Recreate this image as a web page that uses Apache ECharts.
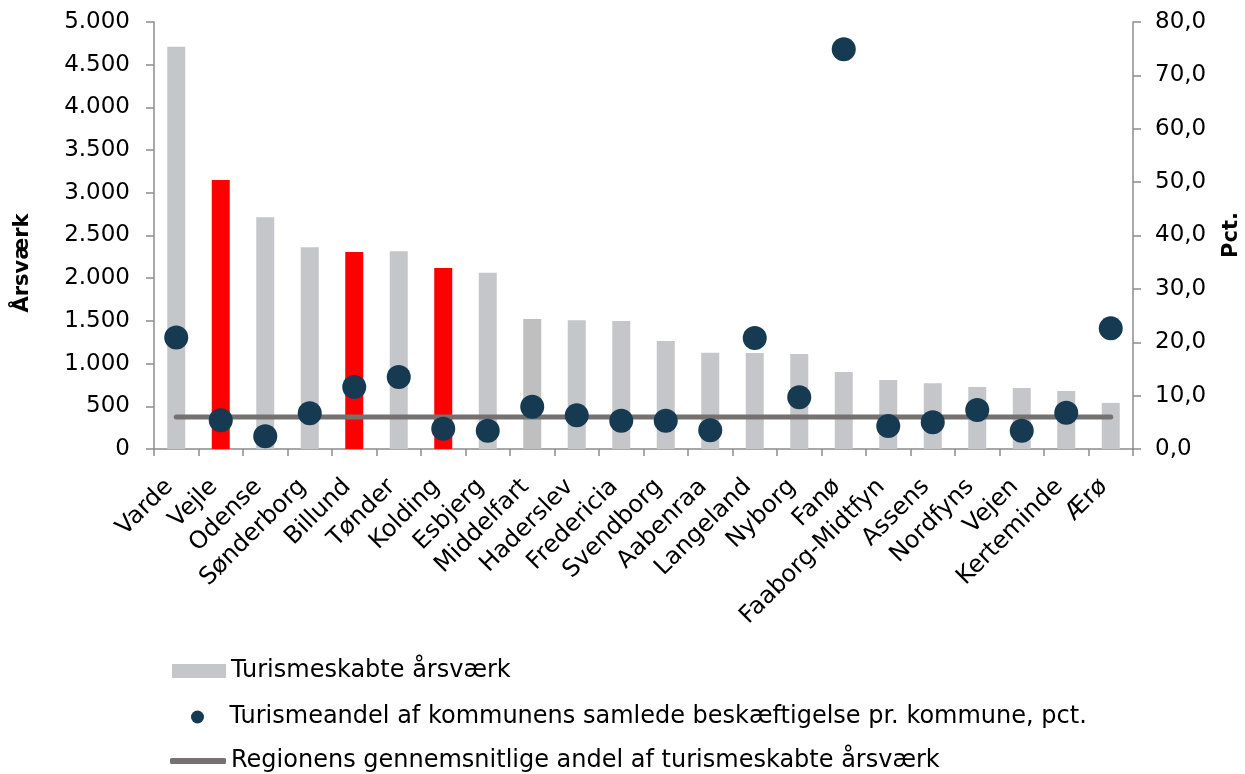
<!DOCTYPE html>
<html>
<head>
<meta charset="utf-8">
<script src="https://cdn.jsdelivr.net/npm/echarts@6/dist/echarts.min.js"></script>
<style>
html,body{margin:0;padding:0;background:#fff;}
#chart{width:1245px;height:774px;}
</style>
</head>
<body>
<div id="chart"></div>
<script>
// ---- data ----
var categories = ['Varde','Vejle','Odense','Sønderborg','Billund','Tønder','Kolding','Esbjerg','Middelfart','Haderslev','Fredericia','Svendborg','Aabenraa','Langeland','Nyborg','Fanø','Faaborg-Midtfyn','Assens','Nordfyns','Vejen','Kerteminde','Ærø'];
var aarsvaerk = [4710,3150,2715,2362,2307,2315,2120,2065,1522,1507,1499,1265,1128,1125,1112,902,808,769,726,714,680,540];
var andelPct = [20.9,5.4,2.4,6.7,11.6,13.5,3.8,3.4,7.9,6.3,5.3,5.3,3.5,20.8,9.7,74.9,4.3,5.0,7.3,3.4,6.8,22.6];
var regionAvg = [6.0,6.0,6.0,6.0,6.0,6.0,6.0,6.0,6.0,6.0,6.0,6.0,6.0,6.0,6.0,6.0,6.0,6.0,6.0,6.0,6.0,6.0];
var highlighted = ['Vejle','Billund','Kolding'];
var darkerGrey = ['Middelfart'];
var leftTicks = {min:0, max:5000, interval:500};
var rightTicks = {min:0, max:80, interval:10};
var seriesNames = ['Turismeskabte årsværk','Turismeandel af kommunens samlede beskæftigelse pr. kommune, pct.','Regionens gennemsnitlige andel af turismeskabte årsværk'];

// ---- chart ----
var FONT = 'DejaVu Sans';
var GREY = '#C5C6CA', RED = '#FF0000', DARK = '#163A52', LINE = '#767171';
var chart = echarts.init(document.getElementById('chart'));
var barData = aarsvaerk.map(function(v,i){
  var c = GREY;
  if (highlighted.indexOf(categories[i]) >= 0) c = RED;
  else if (darkerGrey.indexOf(categories[i]) >= 0) c = '#BFBFBF';
  return {value:v, itemStyle:{color:c}};
});
function thousands(v){ return String(v).replace(/\B(?=(\d{3})+(?!\d))/g,'.'); }
var axisLineStyle = {color:'#8C8C8C', width:1.5};
var legendText = {fontSize:24, color:'#000', fontFamily:FONT};
chart.setOption({
  animation:false,
  textStyle:{fontFamily:FONT},
  grid:{left:154, right:112, top:22, bottom:325, containLabel:false},
  xAxis:{
    type:'category', data:categories,
    axisLine:{lineStyle:axisLineStyle},
    axisTick:{show:true, length:7, lineStyle:axisLineStyle},
    axisLabel:{rotate:45, interval:0, fontSize:24, color:'#000', fontFamily:FONT, margin:27, padding:[0,10,0,0]}
  },
  yAxis:[
    {type:'value', min:leftTicks.min, max:leftTicks.max, interval:leftTicks.interval,
     axisLine:{show:true, lineStyle:axisLineStyle},
     axisTick:{show:true, length:8, lineStyle:axisLineStyle},
     splitLine:{show:false},
     axisLabel:{fontSize:23, color:'#000', fontFamily:FONT, margin:24, formatter:thousands}},
    {type:'value', min:rightTicks.min, max:rightTicks.max, interval:rightTicks.interval, position:'right',
     axisLine:{show:true, lineStyle:axisLineStyle},
     axisTick:{show:true, length:8, lineStyle:axisLineStyle},
     splitLine:{show:false},
     axisLabel:{fontSize:23, color:'#000', fontFamily:FONT, margin:22, formatter:function(v){return v.toFixed(1).replace('.',',');}}}
  ],
  legend:[
    {left:172, top:659, padding:0, itemWidth:54, itemHeight:14, selectedMode:false, textStyle:legendText,
     data:[{name:seriesNames[0], icon:'rect', itemStyle:{color:GREY}}]},
    {left:191, top:705, padding:0, itemWidth:54, itemHeight:13, selectedMode:false, textStyle:legendText,
     data:[{name:seriesNames[1], icon:'circle'}]},
    {left:170, top:749, padding:0, itemWidth:56, itemHeight:6, selectedMode:false, textStyle:legendText,
     data:[{name:seriesNames[2], icon:'roundRect', itemStyle:{color:LINE}}]}
  ],
  graphic:[
    {type:'text', x:23, y:263, rotation:Math.PI/2, style:{text:'Årsværk', font:'bold 21px "'+FONT+'"', fill:'#000', textAlign:'center', textVerticalAlign:'middle'}},
    {type:'text', x:1232, y:235, rotation:Math.PI/2, style:{text:'Pct.', font:'bold 21px "'+FONT+'"', fill:'#000', textAlign:'center', textVerticalAlign:'middle'}}
  ],
  series:[
    {name:seriesNames[0], type:'bar', data:barData, barWidth:18, yAxisIndex:0, itemStyle:{color:GREY}, z:2},
    {name:seriesNames[2], type:'line', data:regionAvg, yAxisIndex:1, showSymbol:false, symbol:'none',
     lineStyle:{color:LINE, width:5, cap:'round'}, itemStyle:{color:LINE}, z:3},
    {name:seriesNames[1], type:'scatter', data:andelPct, yAxisIndex:1, symbolSize:24,
     itemStyle:{color:DARK, opacity:1}, z:4}
  ]
});
</script>
</body>
</html>
